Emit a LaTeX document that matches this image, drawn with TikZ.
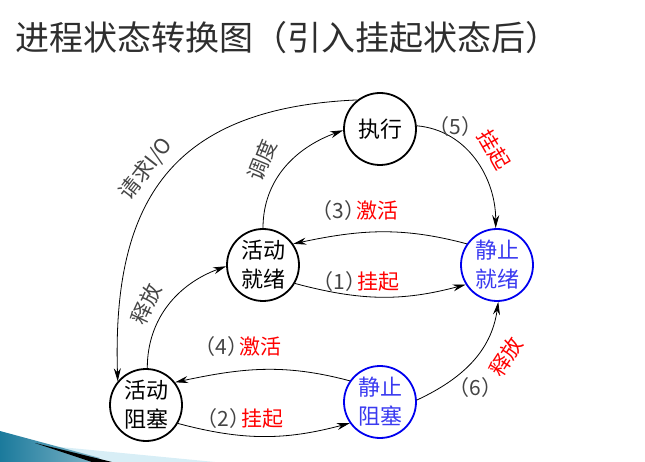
\documentclass[tikz,border=0pt]{standalone}
\usepackage{fontspec}
\setmainfont{Noto Sans CJK SC}
\usetikzlibrary{arrows.meta}
\definecolor{titlegray}{HTML}{2E2E2E}
\definecolor{labelgray}{HTML}{444444}
\definecolor{quietblue}{HTML}{0000EE}
\definecolor{quiettext}{HTML}{3A3AF0}
\definecolor{swooshteal}{HTML}{1B7A9C}
\definecolor{swooshlight}{HTML}{D8EEF6}
\newcommand{\stepno}[1]{（#1）\kern-9pt}

\begin{document}
\begin{tikzpicture}[x=1pt,y=1pt,
	state/.style={circle,draw,line width=1.8pt,minimum size=72pt,inner sep=0pt,align=center,font=\fontsize{22}{29}\selectfont},
	quiet/.style={state,draw=quietblue,text=quiettext},
	link/.style={line width=0.8pt,-{Stealth[length=13pt,width=7pt]}},
	tag/.style={font=\fontsize{21}{24}\selectfont,text=labelgray,inner sep=0pt},
	hot/.style={tag,text=red}]
	\useasboundingbox (0,0) rectangle (645,-462);

	% Slide decoration
	\fill[swooshlight] (50,-446) -- (215,-462) -- (90,-462) -- cycle;
	\shade[left color=swooshteal,right color=swooshteal!55!white] (0,-431) -- (100,-458) -- (95,-462) -- (0,-462) -- cycle;
	\fill[black] (35,-443) -- (112,-462) -- (92,-462) -- cycle;

	% Title
	\node[anchor=west,inner sep=0pt,text=titlegray,font=\fontsize{34}{40}\selectfont] (title) at (15,-38) {进程状态转换图（引入挂起状态后）};

	% States
	\node[state] (run) at (380,-129) {执行};
	\node[state] (aready) at (263,-265) {活动\\就绪};
	\node[quiet] (sready) at (497,-265) {静止\\就绪};
	\node[state] (ablock) at (146,-405) {活动\\阻塞};
	\node[quiet] (sblock) at (380,-402) {静止\\阻塞};

	% Connections
	\draw[link] (run.128) .. controls (172,-108) and (112,-200) .. (ablock.140);
	\draw[link] (aready.90) to[out=90,in=200] (run.182);
	\draw[link] (run.5) to[out=-5,in=90] (sready.92);
	\draw[link] (sready.145) to[out=165,in=12] (aready.35);
	\draw[link] (aready.-30) to[out=-15,in=195] (sready.212);
	\draw[link] (ablock.88) to[out=90,in=200] (aready.182);
	\draw[link] (sblock.145) to[out=165,in=12] (ablock.38);
	\draw[link] (ablock.-30) to[out=-15,in=195] (sblock.215);
	\draw[link] (sblock.3) to[out=25,in=262] (sready.272);

	% Labels
	\node[tag,rotate=52] (ioreq) at (146,-169) {请求I/O};
	\node[tag,rotate=68] (sched) at (262,-160) {调度};
	\node[tag] (n5) at (451,-127) {\stepno{5}};
	\node[hot,rotate=-60] (susp5) at (494,-150) {挂起};
	\node[tag] (n3) at (355,-211) {\stepno{3}\textcolor{red}{激活}};
	\node[tag] (n1) at (356,-282) {\stepno{1}\textcolor{red}{挂起}};
	\node[tag,rotate=65] (free) at (146,-304) {释放};
	\node[tag] (n4) at (238,-347) {\stepno{4}\textcolor{red}{激活}};
	\node[tag] (n2) at (240,-419) {\stepno{2}\textcolor{red}{挂起}};
	\node[tag] (n6) at (471,-388) {\stepno{6}};
	\node[hot,rotate=57] (free6) at (506,-357) {释放};
\end{tikzpicture}
\end{document}
